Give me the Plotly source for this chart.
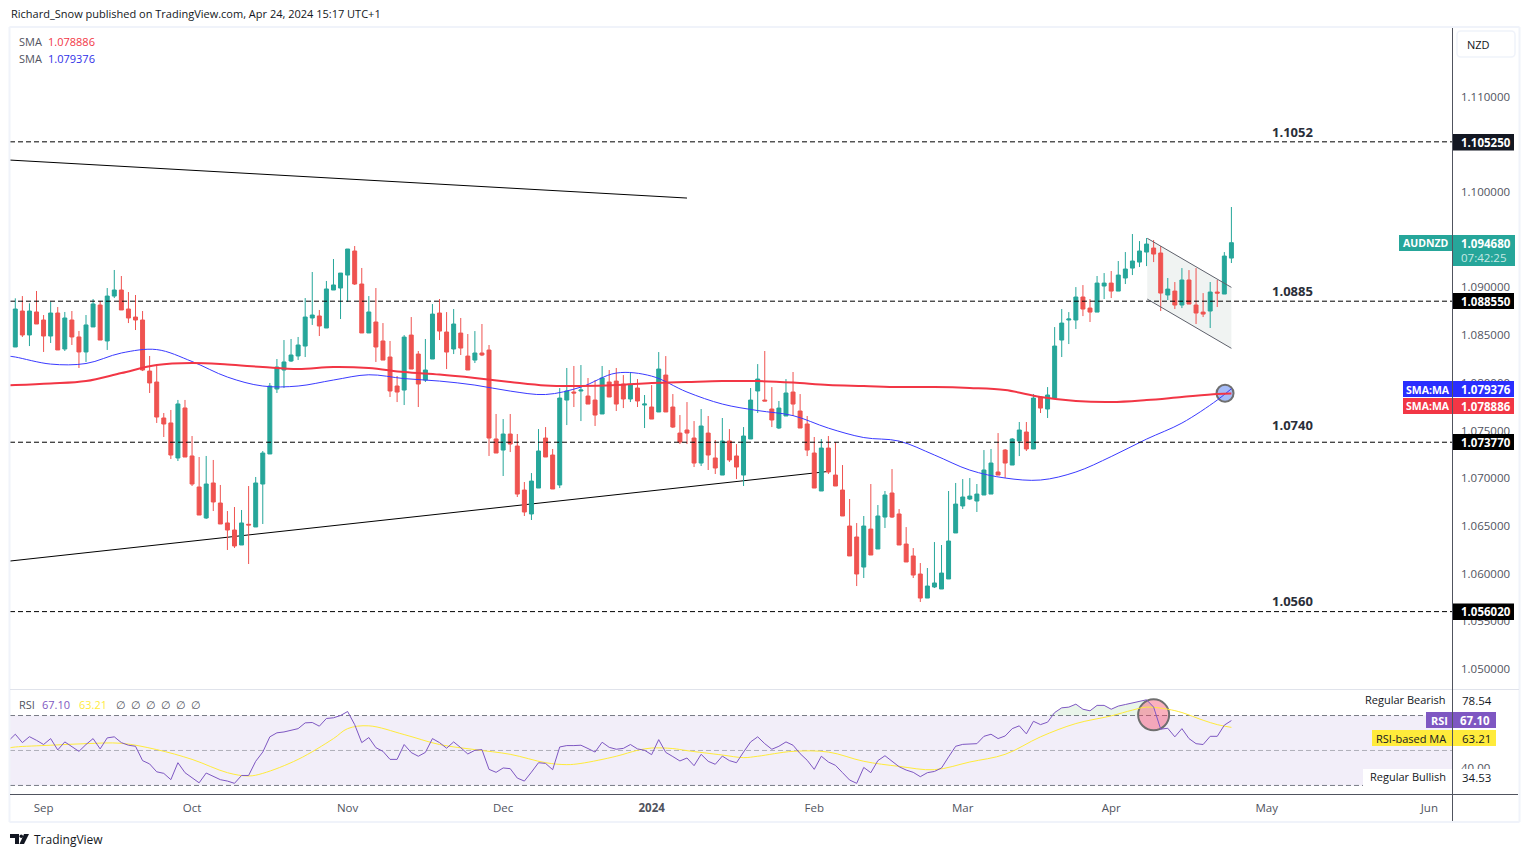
import plotly.graph_objects as go

# AUD/NZD diario, valores
W = 1529
H = 857

open_ = [1.08375,1.08752,1.08501,1.08742,1.08658,1.08490,1.08731,1.08354,1.08658,1.08480,
1.08323,1.08585,1.08815,1.08438,1.08909,1.08972,1.08773,1.08689,1.08658,1.08123,
1.08008,1.07631,1.07579,1.07212,1.07736,1.07233,1.06908,1.06583,1.06950,1.06740,
1.06531,1.06457,1.06300,1.06517,1.06489,1.06939,1.07254,1.07935,1.08134,1.08228,
1.08281,1.08385,1.08679,1.08700,1.08574,1.08972,1.08993,1.09129,1.09381,1.09035,
1.08522,1.08637,1.08438,1.08270,1.07966,1.07924,1.08500,1.08301,1.08029,1.08249,
1.08731,1.08532,1.08354,1.08521,1.08280,1.08238,1.08312,1.08343,1.07411,1.07295,
1.07463,1.07337,1.06876,1.06625,1.06897,1.07421,1.07243,1.06929,1.07819,1.07903,
1.07914,1.07861,1.07819,1.07673,1.08008,1.08018,1.07987,1.07830,1.07945,1.07767,
1.07746,1.07694,1.08081,1.07746,1.07473,1.07505,1.07421,1.07159,1.07473,1.07212,
1.07033,1.07390,1.07233,1.07033,1.07411,1.07914,1.07819,1.07725,1.07526,1.07652,
1.07903,1.07704,1.07568,1.07264,1.06866,1.07316,1.07033,1.06876,1.06499,1.06384,
1.06069,1.06467,1.06258,1.06593,1.06845,1.06625,1.06310,1.06185,1.05996,1.05744,
1.05860,1.05839,1.05944,1.06426,1.06709,1.06782,1.06761,1.06824,1.06834,1.07065,
1.07295,1.07138,1.07390,1.07484,1.07306,1.07851,1.07725,1.07840,1.08448,1.08658,
1.08658,1.08899,1.08783,1.08741,1.09014,1.09045,1.08961,1.09098,1.09202,1.09265,
1.09370,1.09412,1.09360,1.08920,1.08961,1.08815,1.09077,1.08815,1.08741,1.08752,1.08951,1.08930,1.09307]

high = [1.08885,1.08909,1.08833,1.08962,1.08710,1.08847,1.08794,1.08742,1.08752,1.08543,
1.08710,1.08878,1.08857,1.08993,1.09182,1.09119,1.08951,1.08920,1.08752,1.08281,
1.08176,1.07683,1.07715,1.07820,1.07820,1.07442,1.07222,1.07233,1.07191,1.06929,
1.06656,1.06698,1.06667,1.06918,1.07013,1.07285,1.07998,1.08249,1.08448,1.08459,
1.08480,1.08888,1.09161,1.08763,1.09067,1.09297,1.09150,1.09402,1.09433,1.09203,
1.08909,1.08993,1.08626,1.08438,1.08071,1.08500,1.08689,1.08333,1.08459,1.08825,
1.08878,1.08741,1.08773,1.08679,1.08511,1.08542,1.08616,1.08396,1.07673,1.07620,
1.07673,1.07463,1.06960,1.07054,1.07515,1.07536,1.07306,1.07945,1.08155,1.08176,
1.08186,1.08050,1.08029,1.08176,1.08134,1.08155,1.08081,1.08113,1.08039,1.07872,
1.07976,1.08322,1.08280,1.07882,1.07662,1.07798,1.07599,1.07725,1.07652,1.07400,
1.07631,1.07515,1.07358,1.07536,1.07945,1.08196,1.08333,1.07955,1.07809,1.08039,
1.08113,1.07882,1.07652,1.07432,1.07411,1.07442,1.07379,1.07138,1.06782,1.06530,
1.06604,1.06939,1.06719,1.06866,1.07096,1.06677,1.06488,1.06268,1.06111,1.06059,
1.06331,1.06300,1.06866,1.06950,1.06991,1.07002,1.06939,1.07295,1.07306,1.07473,
1.07306,1.07421,1.07589,1.07589,1.07882,1.07861,1.07955,1.08584,1.08773,1.08741,
1.09003,1.09024,1.08878,1.09119,1.09150,1.09171,1.09276,1.09370,1.09559,1.09485,
1.09517,1.09496,1.09433,1.09098,1.09056,1.09202,1.09181,1.09202,1.08940,1.09056,1.09077,1.09370,1.09842]

low = [1.08375,1.08480,1.08385,1.08616,1.08323,1.08417,1.08344,1.08333,1.08396,1.08155,
1.08218,1.08585,1.08448,1.08344,1.08888,1.08763,1.08626,1.08553,1.08123,1.07893,
1.07579,1.07432,1.07201,1.07180,1.07222,1.06918,1.06614,1.06573,1.06656,1.06520,
1.06248,1.06269,1.06300,1.06101,1.06489,1.06520,1.07254,1.07893,1.07945,1.08218,
1.08239,1.08270,1.08606,1.08490,1.08574,1.08972,1.08668,1.08847,1.09025,1.08522,
1.08522,1.08218,1.08238,1.07851,1.07798,1.07767,1.08144,1.07746,1.08008,1.08249,
1.08448,1.08144,1.08301,1.08291,1.08134,1.08207,1.08280,1.07233,1.07264,1.07023,
1.07274,1.06803,1.06604,1.06562,1.06897,1.07222,1.06887,1.06897,1.07557,1.07746,
1.07599,1.07777,1.07547,1.07673,1.07851,1.07704,1.07735,1.07798,1.07746,1.07526,
1.07620,1.07694,1.07694,1.07526,1.07358,1.07358,1.07117,1.07128,1.07086,1.07044,
1.07033,1.07170,1.06991,1.06918,1.07411,1.07683,1.07809,1.07536,1.07515,1.07652,
1.07652,1.07526,1.07232,1.06897,1.06866,1.07044,1.06918,1.06604,1.06185,1.05870,
1.05954,1.06195,1.06258,1.06478,1.06583,1.06300,1.06122,1.05954,1.05703,1.05744,
1.05849,1.05839,1.05944,1.06426,1.06677,1.06771,1.06646,1.06824,1.06834,1.07033,
1.07002,1.07138,1.07232,1.07285,1.07306,1.07683,1.07631,1.07840,1.08270,1.08406,
1.08563,1.08699,1.08637,1.08741,1.08878,1.08888,1.08961,1.09035,1.09129,1.09213,
1.09223,1.09265,1.08752,1.08867,1.08773,1.08783,1.08825,1.08616,1.08689,1.08574,1.08794,1.08930,1.09255]

close = [1.08773,1.08501,1.08752,1.08616,1.08490,1.08731,1.08344,1.08679,1.08480,1.08323,
1.08606,1.08826,1.08448,1.08909,1.08972,1.08763,1.08679,1.08658,1.08134,1.07998,
1.07641,1.07568,1.07243,1.07778,1.07222,1.06939,1.06614,1.06939,1.06751,1.06520,
1.06457,1.06290,1.06531,1.06510,1.06950,1.07264,1.07966,1.08165,1.08218,1.08291,
1.08396,1.08689,1.08710,1.08595,1.08983,1.09025,1.09150,1.09402,1.09035,1.08522,
1.08742,1.08375,1.08238,1.07914,1.07903,1.08479,1.08144,1.07987,1.08134,1.08720,
1.08542,1.08322,1.08616,1.08364,1.08134,1.08312,1.08291,1.07421,1.07264,1.07463,
1.07358,1.06834,1.06646,1.06970,1.07285,1.07222,1.06887,1.07840,1.07914,1.07893,
1.07924,1.07777,1.07662,1.08050,1.07851,1.07777,1.07830,1.07976,1.07809,1.07777,
1.07620,1.08144,1.07694,1.07536,1.07379,1.07473,1.07159,1.07547,1.07243,1.07107,
1.07390,1.07191,1.07117,1.07442,1.07819,1.08039,1.07809,1.07610,1.07735,1.07893,
1.07777,1.07526,1.07295,1.06897,1.07316,1.07065,1.06918,1.06604,1.06185,1.05996,
1.06499,1.06195,1.06604,1.06824,1.06593,1.06300,1.06122,1.05985,1.05744,1.05870,
1.05902,1.06006,1.06342,1.06729,1.06803,1.06813,1.06834,1.07086,1.07159,1.07033,
1.07159,1.07411,1.07505,1.07306,1.07840,1.07735,1.07872,1.08385,1.08626,1.08668,
1.08899,1.08773,1.08741,1.09045,1.09045,1.08961,1.09129,1.09192,1.09276,1.09381,
1.09454,1.09349,1.08940,1.08982,1.08815,1.09077,1.08825,1.08731,1.08720,1.08951,1.08940,1.09328,1.09468]

bar_index = list(range(len(close)))

# medias moveis, lidas a cada poucas barras
sma_index = [-1,0,5,10,15,20,25,30,35,40,45,50,55,60,65,70,75,80,85,90,95,100,105,110,115,120,125,130,135,140,145,150,155,160,165,170,172]
sma_red = [1.07974,1.07976,1.07992,1.08018,1.08102,1.08186,1.08207,1.08191,1.08165,1.08144,1.08165,1.08154,1.08112,1.08086,1.08050,1.08008,1.07971,1.07966,1.07976,1.07997,1.08008,1.08018,1.08018,1.08002,1.07976,1.07966,1.07955,1.07955,1.07945,1.07924,1.07851,1.07809,1.07798,1.07819,1.07851,1.07882,1.078886]
sma_blue = [1.08280,1.08270,1.08196,1.08202,1.08312,1.08348,1.08223,1.08060,1.07966,1.07966,1.08029,1.08084,1.08044,1.08018,1.07976,1.07913,1.07877,1.07955,1.08102,1.08070,1.07903,1.07777,1.07709,1.07656,1.07525,1.07426,1.07389,1.07243,1.07085,1.07002,1.06981,1.07065,1.07227,1.07410,1.07578,1.07819,1.079376]

rsi_index = list(range(-1, 173))
rsi = [55.3,59.3,54.5,57.9,55.8,53.4,56.8,50.3,54.9,52.0,49.5,53.4,56.8,50.9,57.2,57.8,54.5,53.0,52.4,44.2,
42.3,37.8,36.9,33.3,43.0,37.3,34.6,31.5,37.1,35.4,33.3,32.5,31.2,35.7,35.7,43.8,49.1,57.8,60.1,60.6,
61.6,62.5,65.8,66.0,63.9,68.3,68.7,70.0,72.3,64.8,54.5,57.4,51.6,49.5,44.9,44.9,53.4,48.8,46.7,48.9,
56.8,54.5,51.3,54.9,51.6,48.0,50.1,50.5,39.2,37.5,40.0,39.6,34.2,32.5,37.6,43.0,42.6,39.0,52.0,52.8,
52.8,53.0,51.1,49.1,54.7,51.8,50.7,51.2,53.4,50.9,50.1,47.6,56.2,48.9,46.5,44.0,45.7,41.3,47.8,43.8,
42.1,46.8,44.2,43.0,49.1,54.9,57.8,53.9,50.7,52.4,54.9,53.0,48.2,44.4,39.2,46.7,43.4,41.5,37.3,33.1,
31.2,40.3,37.3,44.2,47.0,44.0,40.7,38.8,37.5,35.0,37.3,38.0,40.0,46.3,52.4,53.5,53.7,53.9,58.1,59.3,
56.8,58.3,62.5,64.1,59.5,66.7,64.8,66.2,71.7,74.4,74.8,76.5,73.6,72.7,75.8,75.8,73.6,75.4,76.3,77.1,
78.0,79.0,74.8,62.2,62.7,57.8,62.5,56.8,53.9,53.4,58.1,58.1,64.5,67.1]

rsi_ma_index = [-1,0,5,10,15,20,25,30,33,35,40,45,47,50,55,60,65,70,75,78,80,85,88,90,93,95,100,103,105,110,115,120,125,130,135,140,145,150,155,158,160,163,165,168,170,172]
rsi_ma = [51.4,52.0,53.0,53.9,54.1,50.5,44.9,37.3,35.4,36.9,44.9,56.8,62.5,64.1,59.1,53.4,50.5,47.8,43.0,41.9,42.6,46.7,50.1,51.4,51.1,49.9,47.4,45.9,46.7,49.5,49.1,43.8,40.9,39.0,43.4,47.8,57.8,65.4,69.8,73.1,74.8,73.6,71.7,67.3,64.8,63.21]

# niveis e eixos
levels = [1.10525, 1.08855, 1.07377, 1.05602]
level_names = ["1.1052", "1.0885", "1.0740", "1.0560"]
price_ticks = [1.05,1.055,1.06,1.065,1.07,1.075,1.08,1.085,1.09,1.10,1.11]
price_tick_text = ["%.6f" % v for v in price_ticks]
month_index = [4, 25, 47, 69, 90, 113, 134, 155, 177, 200]
month_names = ["Sep", "Oct", "Nov", "Dec", "<b>2024</b>", "Feb", "Mar", "Apr", "May", "Jun"]

# linhas desenhadas no grafico: (indice, preco)
upper_trend_x, upper_trend_y = [-0.75, 95], [1.10334, 1.09936]
lower_trend_x, lower_trend_y = [-0.75, 114.9], [1.06132, 1.07070]
flag_x = [160.1, 172]
flag_top = [1.09514, 1.09000]
flag_bottom = [1.08877, 1.08361]

UP = "#26a69a"
DOWN = "#ef5350"
RED = "#f23645"
BLUE = "#3a3aff"
PURPLE = "#7e57c2"
YELLOW = "#ffeb3b"
FONT = "Open Sans"
GRAY = "#50535e"
DASH = "5px,3px"


def px(x):
    return x / W


def py(y):
    return 1 - y / H


fig = go.Figure()

fig.add_trace(go.Candlestick(x=bar_index, open=open_, high=high, low=low, close=close,
                             increasing=dict(line=dict(color=UP, width=1), fillcolor=UP),
                             decreasing=dict(line=dict(color=DOWN, width=1), fillcolor=DOWN),
                             whiskerwidth=0, xaxis="x", yaxis="y", showlegend=False))
fig.add_trace(go.Scatter(x=[171.1], y=[1.07891], mode="markers",
                         marker=dict(size=17, color="#a6bcf8", line=dict(color="#6f6f6f", width=2)),
                         xaxis="x", yaxis="y", showlegend=False))
fig.add_trace(go.Scatter(x=sma_index, y=sma_blue, mode="lines", line=dict(color=BLUE, width=1, shape="spline"),
                         xaxis="x", yaxis="y", showlegend=False))
fig.add_trace(go.Scatter(x=sma_index, y=sma_red, mode="lines", line=dict(color=RED, width=2, shape="spline"),
                         xaxis="x", yaxis="y", showlegend=False))

# RSI: area acima de 70, circulo e linhas
above_x = rsi_index[146:163]
above_y = [max(v, 70) for v in rsi[146:163]]
fig.add_trace(go.Scatter(x=above_x, y=[70] * len(above_x), mode="lines", line=dict(width=0),
                         xaxis="x2", yaxis="y2", showlegend=False))
fig.add_trace(go.Scatter(x=above_x, y=above_y, mode="lines", line=dict(width=0), fill="tonexty",
                         fillcolor="rgba(76,175,80,0.12)", xaxis="x2", yaxis="y2", showlegend=False))
fig.add_trace(go.Scatter(x=[161], y=[70.4], mode="markers",
                         marker=dict(size=31, color="rgba(245,70,100,0.42)", line=dict(color="#6f6f6f", width=2)),
                         xaxis="x2", yaxis="y2", showlegend=False))
fig.add_trace(go.Scatter(x=rsi_ma_index, y=rsi_ma, mode="lines", line=dict(color=YELLOW, width=1, shape="spline"),
                         xaxis="x2", yaxis="y2", showlegend=False))
fig.add_trace(go.Scatter(x=rsi_index, y=rsi, mode="lines", line=dict(color=PURPLE, width=1),
                         xaxis="x2", yaxis="y2", showlegend=False))

shapes = []
annotations = []


def text(x, y, s, color=GRAY, size=11.5, anchor="left", bg=None):
    annotations.append(dict(x=px(x), y=py(y), xref="paper", yref="paper", text=s, showarrow=False,
                            xanchor=anchor, yanchor="middle", bgcolor=bg, borderpad=0,
                            font=dict(family=FONT, size=size, color=color)))


def rule(x0, y0, x1, y1, color, width=1):
    shapes.append(dict(type="line", xref="paper", yref="paper", x0=px(x0), y0=py(y0), x1=px(x1), y1=py(y1),
                       line=dict(color=color, width=width), layer="above"))


def badge(x0, y0, x1, y1, color):
    shapes.append(dict(type="rect", xref="paper", yref="paper", x0=px(x0), y0=py(y0), x1=px(x1), y1=py(y1),
                       fillcolor=color, line=dict(width=0), layer="above"))


# niveis tracejados
for lv in levels:
    shapes.append(dict(type="line", xref="x", yref="y", x0=-0.75, x1=203.2, y0=lv, y1=lv, layer="above",
                       line=dict(color="#000000", width=1, dash=DASH)))

# linhas de tendencia
shapes.append(dict(type="line", xref="x", yref="y", x0=upper_trend_x[0], x1=upper_trend_x[1],
                   y0=upper_trend_y[0], y1=upper_trend_y[1], line=dict(color="#000000", width=1)))
shapes.append(dict(type="line", xref="x", yref="y", x0=lower_trend_x[0], x1=lower_trend_x[1],
                   y0=lower_trend_y[0], y1=lower_trend_y[1], line=dict(color="#000000", width=1), layer="below"))

# canal da bandeira
shapes.append(dict(type="path", xref="x", yref="y", layer="below", line=dict(width=0), fillcolor="#f0f3f2",
                   path="M %s %s L %s %s L %s %s L %s %s Z" % (flag_x[0], flag_top[0], flag_x[1], flag_top[1],
                                                              flag_x[1], flag_bottom[1], flag_x[0], flag_bottom[0])))
shapes.append(dict(type="line", xref="x", yref="y", x0=flag_x[0], x1=flag_x[1], y0=flag_top[0], y1=flag_top[1],
                   line=dict(color="#5d606b", width=1)))
shapes.append(dict(type="line", xref="x", yref="y", x0=flag_x[0], x1=flag_x[1], y0=flag_bottom[0], y1=flag_bottom[1],
                   line=dict(color="#5d606b", width=1)))

# faixas do RSI
shapes.append(dict(type="rect", xref="x2", yref="y2", x0=-0.75, x1=203.2, y0=30, y1=70, layer="below",
                   fillcolor="rgba(126,87,194,0.1)", line=dict(width=0)))
for lv, cor in [(70, "#787b86"), (50, "rgba(120,123,134,0.55)"), (30, "#787b86")]:
    shapes.append(dict(type="line", xref="x2", yref="y2", x0=-0.75, x1=203.2, y0=lv, y1=lv, layer="below",
                       line=dict(color=cor, width=1, dash=DASH)))

# moldura
frame = "#f0f3fa"
rule(9.5, 27, 1519.5, 27, frame, 2)
rule(9.5, 822, 1519.5, 822, frame, 2)
rule(9.5, 27, 9.5, 822, frame, 2)
rule(1519.5, 27, 1519.5, 822, frame, 2)
rule(10, 689.5, 1519, 689.5, "#e0e3eb", 1)
rule(10, 794.5, 1518, 794.5, "#50535e", 1)
rule(1452.5, 28, 1452.5, 821, "#50535e", 1)

# caixa NZD
shapes.append(dict(type="path", xref="paper", yref="paper", layer="above", fillcolor="#ffffff",
                   line=dict(color=frame, width=1.5),
                   path="M %f %f L %f %f Q %f %f %f %f L %f %f Q %f %f %f %f L %f %f Q %f %f %f %f L %f %f Q %f %f %f %f Z" % (
                       px(1461), py(31), px(1511), py(31), px(1515), py(31), px(1515), py(35),
                       px(1515), py(53), px(1515), py(57), px(1511), py(57),
                       px(1461), py(57), px(1457), py(57), px(1457), py(53),
                       px(1457), py(35), px(1457), py(31), px(1461), py(31))))
text(1466, 44, "NZD", "#131722", 11)

# etiquetas de preco
WHITE = "#ffffff"
for y0, y1, cor, label in [(134, 150.5, "#131722", "1.105250"), (293, 309, "#000000", "1.088550"),
                           (434, 450, "#000000", "1.073770"), (603.5, 620, "#000000", "1.056020"),
                           (381, 397, "#2a2eff", "1.079376"), (398, 414, RED, "1.078886")]:
    badge(1453, y0, 1514, y1, cor)
    text(1460, (y0 + y1) / 2, "<b>%s</b>" % label, WHITE, 11.5)

badge(1453, 235, 1515, 266, UP)
text(1460, 243.5, "<b>1.094680</b>", WHITE, 11.5)
text(1460, 257.5, "07:42:25", "#c8e9e5", 11.5)
badge(1399, 235, 1452, 251, UP)
text(1425.5, 243.5, "<b>AUDNZD</b>", WHITE, 10.5, "center")
badge(1403, 381, 1452, 397, "#2a2eff")
text(1427.5, 389.5, "<b>SMA:MA</b>", WHITE, 10.5, "center")
badge(1403, 398, 1452, 414, RED)
text(1427.5, 406.5, "<b>SMA:MA</b>", WHITE, 10.5, "center")

# rotulos dos niveis
for lv_y, name in zip([132, 291, 425, 601], level_names):
    text(1271, lv_y, "<b>%s</b>" % name, "#2a2e39", 13)

# etiquetas do RSI
badge(1426, 712, 1452, 728, PURPLE)
badge(1453, 712, 1496, 728, PURPLE)
text(1439, 720.5, "<b>RSI</b>", WHITE, 11, "center")
text(1459, 720.5, "<b>67.10</b>", WHITE, 11.5)
badge(1372, 730, 1452, 746, YELLOW)
badge(1453, 730, 1496, 746, YELLOW)
text(1447, 738, "RSI-based MA", "#131722", 11, "right")
text(1461, 738, "63.21", "#131722", 11.5)
text(1447, 699.5, "Regular Bearish", "#131722", 11, "right")
text(1461, 700.5, "78.54", "#131722", 11.5)
badge(1363, 769, 1452, 786, WHITE)
badge(1453, 769, 1492, 786, WHITE)
text(1447, 776.5, "Regular Bullish", "#131722", 11, "right")
text(1461, 777, "34.53", "#131722", 11.5)

# cabecalho e legendas
text(10, 14, "Richard_Snow published on TradingView.com, Apr 24, 2024 15:17 UTC+1", "#131722", 11)
text(17.5, 41.5, "SMA", GRAY, 11)
text(46.5, 41.5, "1.078886", RED, 11)
text(17.5, 58.5, "SMA", GRAY, 11)
text(46.5, 58.5, "1.079376", "#3030e8", 11)
text(17.5, 704.5, "RSI", GRAY, 11)
text(41, 704.5, "67.10", PURPLE, 11)
text(78, 704.5, "63.21", YELLOW, 11)
for x in [115, 130, 145, 160, 175, 190]:
    text(x, 704.5, "\u2205", GRAY, 11)

# logo TradingView
shapes.append(dict(type="path", xref="paper", yref="paper", layer="above", fillcolor="#131722", line=dict(width=0),
                   path="M %f %f L %f %f L %f %f L %f %f L %f %f L %f %f Z" % (
                       px(10), py(834), px(19), py(834), px(19), py(844), px(15), py(844), px(15), py(838), px(10), py(838))))
shapes.append(dict(type="circle", xref="paper", yref="paper", layer="above", fillcolor="#131722", line=dict(width=0),
                   x0=px(19.5), x1=px(23), y0=py(838), y1=py(834.5)))
shapes.append(dict(type="path", xref="paper", yref="paper", layer="above", fillcolor="#131722", line=dict(width=0),
                   path="M %f %f L %f %f L %f %f L %f %f Z" % (
                       px(24), py(834), px(29), py(834), px(24), py(844), px(19.5), py(844))))
text(33, 839.5, "TradingView", "#131722", 12)

fig.update_layout(
    width=W, height=H,
    margin=dict(l=0, r=0, t=0, b=0),
    paper_bgcolor="#ffffff",
    plot_bgcolor="#ffffff",
    showlegend=False,
    boxgap=0.2,
    shapes=shapes,
    annotations=annotations,
    xaxis=dict(domain=[px(10), px(1452)], range=[-0.75, 203.2], anchor="y", rangeslider=dict(visible=False),
               showgrid=False, zeroline=False, showticklabels=False, ticks=""),
    yaxis=dict(domain=[py(689), py(28)], range=[1.04791, 1.11718], anchor="x", side="right",
               tickvals=price_ticks, ticktext=price_tick_text, showgrid=False, zeroline=False, ticks="",
               ticklabelstandoff=8, tickfont=dict(family=FONT, size=11.5, color=GRAY)),
    xaxis2=dict(domain=[px(10), px(1452)], range=[-0.75, 203.2], anchor="y2", showgrid=False, zeroline=False,
                tickvals=month_index, ticktext=month_names, ticks="", ticklabelstandoff=5,
                tickfont=dict(family=FONT, size=11.5, color=GRAY)),
    yaxis2=dict(domain=[py(794), py(690)], range=[25.1, 84.6], anchor="x2", side="right",
                tickvals=[40], ticktext=["40.00"], showgrid=False, zeroline=False, ticks="",
                ticklabelstandoff=8, tickfont=dict(family=FONT, size=11.5, color=GRAY)),
)

fig.write_html("out.html", config=dict(displayModeBar=False), post_script="document.body.style.margin='0';")
